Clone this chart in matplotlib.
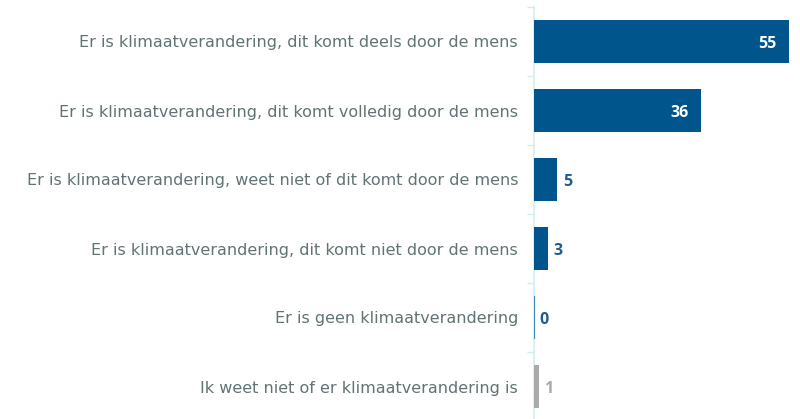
import matplotlib.pyplot as plt
import numpy as np

categories = [
    "Er is klimaatverandering, dit komt deels door de mens",
    "Er is klimaatverandering, dit komt volledig door de mens",
    "Er is klimaatverandering, weet niet of dit komt door de mens",
    "Er is klimaatverandering, dit komt niet door de mens",
    "Er is geen klimaatverandering",
    "Ik weet niet of er klimaatverandering is",
]
values = [55, 36, 5, 3, 0, 1]

BLUE = "#00558c"
GREY = "#aaaaaa"
bar_colors = [BLUE, BLUE, BLUE, BLUE, "#3d8bc4", GREY]
label_colors = ["white", "white", "#1f5c8b", "#1f5c8b", "#1f5c8b", GREY]

fig = plt.figure(figsize=(8, 4.19), dpi=100)
ax = fig.add_axes([534 / 800, -2 / 419, 255 / 800, 414 / 419])

y = np.arange(len(categories))
ax.barh(y, values, height=0.62, color=bar_colors, edgecolor=bar_colors,
        linewidth=[0, 0, 0, 0, 1.6, 0], zorder=3)

ax.set_xlim(0, 55)
ax.set_ylim(len(categories) - 0.5, -0.5)

# value labels: inside (white) for long bars, outside for short ones
for i, v in enumerate(values):
    inside = v >= 20
    ax.annotate(str(v), (v, i), xytext=(-9 if inside else 4, -1.5),
                textcoords="offset points",
                ha="right" if inside else "left", va="center",
                color=label_colors[i], fontsize=11.5, fontweight="bold",
                family="Open Sans", zorder=4)

ax.set_yticks(y)
ax.set_yticklabels(categories, fontsize=11.5, color="#627374", family="DejaVu Sans")
ax.tick_params(axis="y", which="major", length=0, pad=11.5)
ax.set_yticks(np.arange(-0.5, len(categories)), minor=True)
ax.tick_params(axis="y", which="minor", length=5, color="#d5ecf0", width=1)
ax.set_xticks([])

for s in ["top", "right", "bottom"]:
    ax.spines[s].set_visible(False)
ax.spines["left"].set_color("#d5ecf0")
ax.spines["left"].set_linewidth(1.2)

fig.savefig("out.png", dpi=100)
